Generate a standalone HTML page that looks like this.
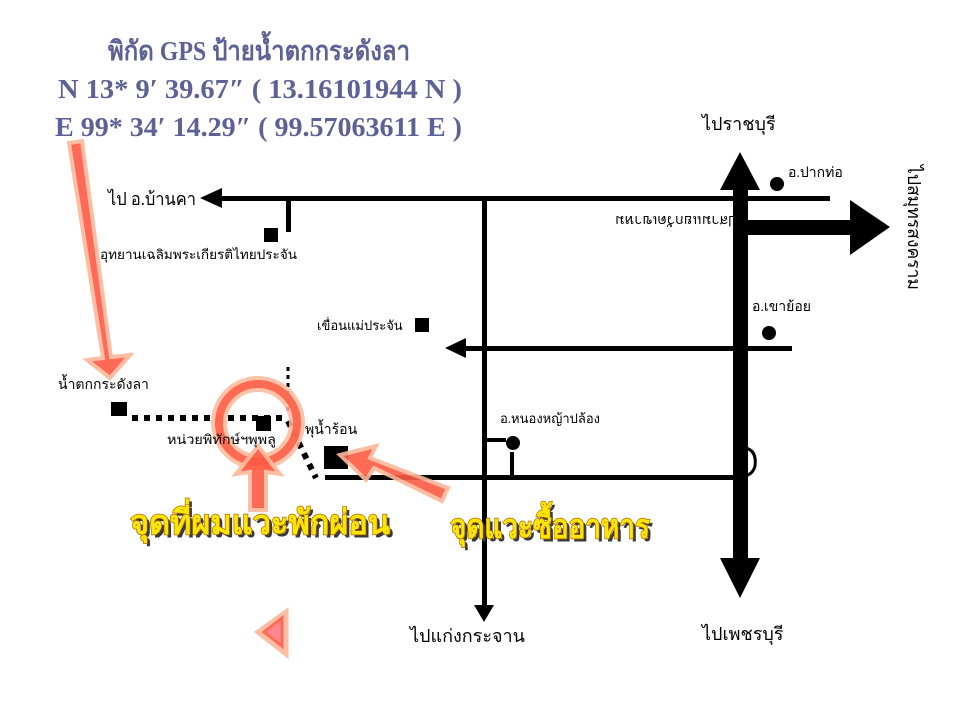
<!DOCTYPE html>
<html><head><meta charset="utf-8"><style>
html,body{margin:0;padding:0;background:#fff;}
svg{display:block;}
.t{font-family:"Liberation Serif","Noto Serif CJK SC","Noto Sans CJK SC",serif;fill:#000;}
.title{font-family:"Liberation Serif","Noto Serif CJK SC",serif;font-weight:bold;fill:#5d6296;font-size:27px;}
.y{font-family:"Liberation Sans","Noto Sans CJK SC",sans-serif;font-weight:bold;font-size:34px;fill:#ffe600;stroke:#b36a00;stroke-width:1.5px;paint-order:stroke;}
.ys{font-family:"Liberation Sans","Noto Sans CJK SC",sans-serif;font-weight:bold;font-size:34px;fill:#3a3a3a;}
</style></head><body>
<svg width="960" height="720" viewBox="0 0 960 720" xmlns="http://www.w3.org/2000/svg">
<rect width="960" height="720" fill="#fff"/>
<!-- title -->
<text class="title" x="108" y="60" textLength="302" lengthAdjust="spacingAndGlyphs">พิกัด GPS ป้ายน้ำตกกระดังลา</text>
<text class="title" x="58" y="98" textLength="404" lengthAdjust="spacingAndGlyphs">N 13* 9′ 39.67″ ( 13.16101944 N )</text>
<text class="title" x="55" y="136" textLength="407" lengthAdjust="spacingAndGlyphs">E 99* 34′ 14.29″ ( 99.57063611 E )</text>

<!-- roads -->
<g fill="#000" stroke="none">
<rect x="212" y="196" width="618" height="5"/>
<polygon points="200,198 222,188 222,208"/>
<rect x="286" y="198" width="5" height="34"/>
<rect x="482" y="198" width="5" height="412"/>
<polygon points="474,605 494,605 484,622"/>
<rect x="458" y="346" width="334" height="5"/>
<polygon points="445,348 466,338 466,358"/>
<rect x="325" y="475" width="420" height="5"/>
<rect x="733" y="185" width="15" height="385"/>
<polygon points="740,152 720,190 760,190"/>
<polygon points="720,558 760,558 740,598"/>
<rect x="745" y="220" width="110" height="15"/>
<polygon points="850,200 890,227 850,255"/>
<rect x="484" y="438" width="22" height="4"/>
<rect x="510" y="452" width="4" height="25"/>
<circle cx="777" cy="184" r="7"/>
<circle cx="769" cy="333" r="7"/>
<circle cx="513" cy="443" r="7"/>
<rect x="264" y="228" width="14" height="14"/>
<rect x="415" y="318" width="14" height="14"/>
<rect x="111" y="402" width="16" height="14"/>
<rect x="256" y="416" width="15" height="15"/>
<rect x="324" y="446" width="24" height="23"/>
</g>
<path d="M745,448 q12,2 10,18 q-2,8 -10,10" fill="none" stroke="#000" stroke-width="3"/>
<!-- dotted paths -->
<line x1="132" y1="418" x2="282" y2="418" stroke="#000" stroke-width="6" stroke-dasharray="6,6"/>
<line x1="288" y1="367" x2="288" y2="412" stroke="#000" stroke-width="3" stroke-dasharray="4,4"/>
<line x1="288" y1="421" x2="316" y2="478" stroke="#000" stroke-width="6" stroke-dasharray="6,6"/>

<!-- red circle -->
<circle cx="258" cy="423" r="39" fill="none" stroke="#ffb89a" stroke-width="16" opacity="0.85"/>
<circle cx="258" cy="423" r="39" fill="none" stroke="#ff5a44" stroke-width="8" opacity="0.85"/>

<!-- red arrows -->
<g opacity="0.9" stroke-linejoin="miter">
<polygon points="69,143 82,141 111,357 130,355 110,378 87,360 103,358" fill="#ff5a44" stroke="#ffb89a" stroke-width="4"/>
<polygon points="250,510 266,510 266,472 280,474 258,446 236,474 250,472" fill="#ff5a44" stroke="#ffb89a" stroke-width="4"/>
<polygon points="448,488 442,501 374,468 366,480 340,455 376,446 370,458" fill="#ff5a44" stroke="#ffb89a" stroke-width="4"/>
<polygon points="258,632 286,612 286,654" fill="#ff8a7a" stroke="#ffb89a" stroke-width="5"/>
<polygon points="264,632 282,618 282,646" fill="#ff7a80" stroke="#ff5a44" stroke-width="3"/>
</g>

<!-- labels -->
<g class="t">
<text x="108" y="205" font-size="18" textLength="88" lengthAdjust="spacingAndGlyphs">ไป อ.บ้านคา</text>
<text x="100" y="259" font-size="13" textLength="197" lengthAdjust="spacingAndGlyphs">อุทยานเฉลิมพระเกียรติไทยประจัน</text>
<text x="317" y="330" font-size="13">เขื่อนแม่ประจัน</text>
<text x="58" y="389" font-size="14">น้ำตกกระดังลา</text>
<text x="167" y="444" font-size="13" textLength="109" lengthAdjust="spacingAndGlyphs">หน่วยพิทักษ์ฯพุพลู</text>
<text x="305" y="434" font-size="14">พุน้ำร้อน</text>
<text x="500" y="423" font-size="13">อ.หนองหญ้าปล้อง</text>
<text x="788" y="177" font-size="14">อ.ปากท่อ</text>
<text x="752" y="311" font-size="14">อ.เขาย้อย</text>
<text x="702" y="130" font-size="18">ไปราชบุรี</text>
<text x="702" y="640" font-size="18">ไปเพชรบุรี</text>
<text x="410" y="642" font-size="18">ไปแก่งกระจาน</text>
<text x="0" y="0" font-size="18" transform="translate(908,165) rotate(90)" textLength="125" lengthAdjust="spacingAndGlyphs">ไปสมุทรสงคราม</text>
<text x="0" y="0" font-size="14" transform="translate(745,216) rotate(180)" textLength="130" lengthAdjust="spacingAndGlyphs">ไปสามแยกวัดเขาหม</text>
</g>

<!-- yellow labels -->
<text class="ys" x="133" y="537" textLength="260" lengthAdjust="spacingAndGlyphs">จุดที่ผมแวะพักผ่อน</text>
<text class="y" x="130" y="534" textLength="260" lengthAdjust="spacingAndGlyphs">จุดที่ผมแวะพักผ่อน</text>
<text class="ys" x="453" y="541" textLength="200" lengthAdjust="spacingAndGlyphs">จุดแวะซื้ออาหาร</text>
<text class="y" x="450" y="538" textLength="200" lengthAdjust="spacingAndGlyphs">จุดแวะซื้ออาหาร</text>
</svg>
</body></html>
